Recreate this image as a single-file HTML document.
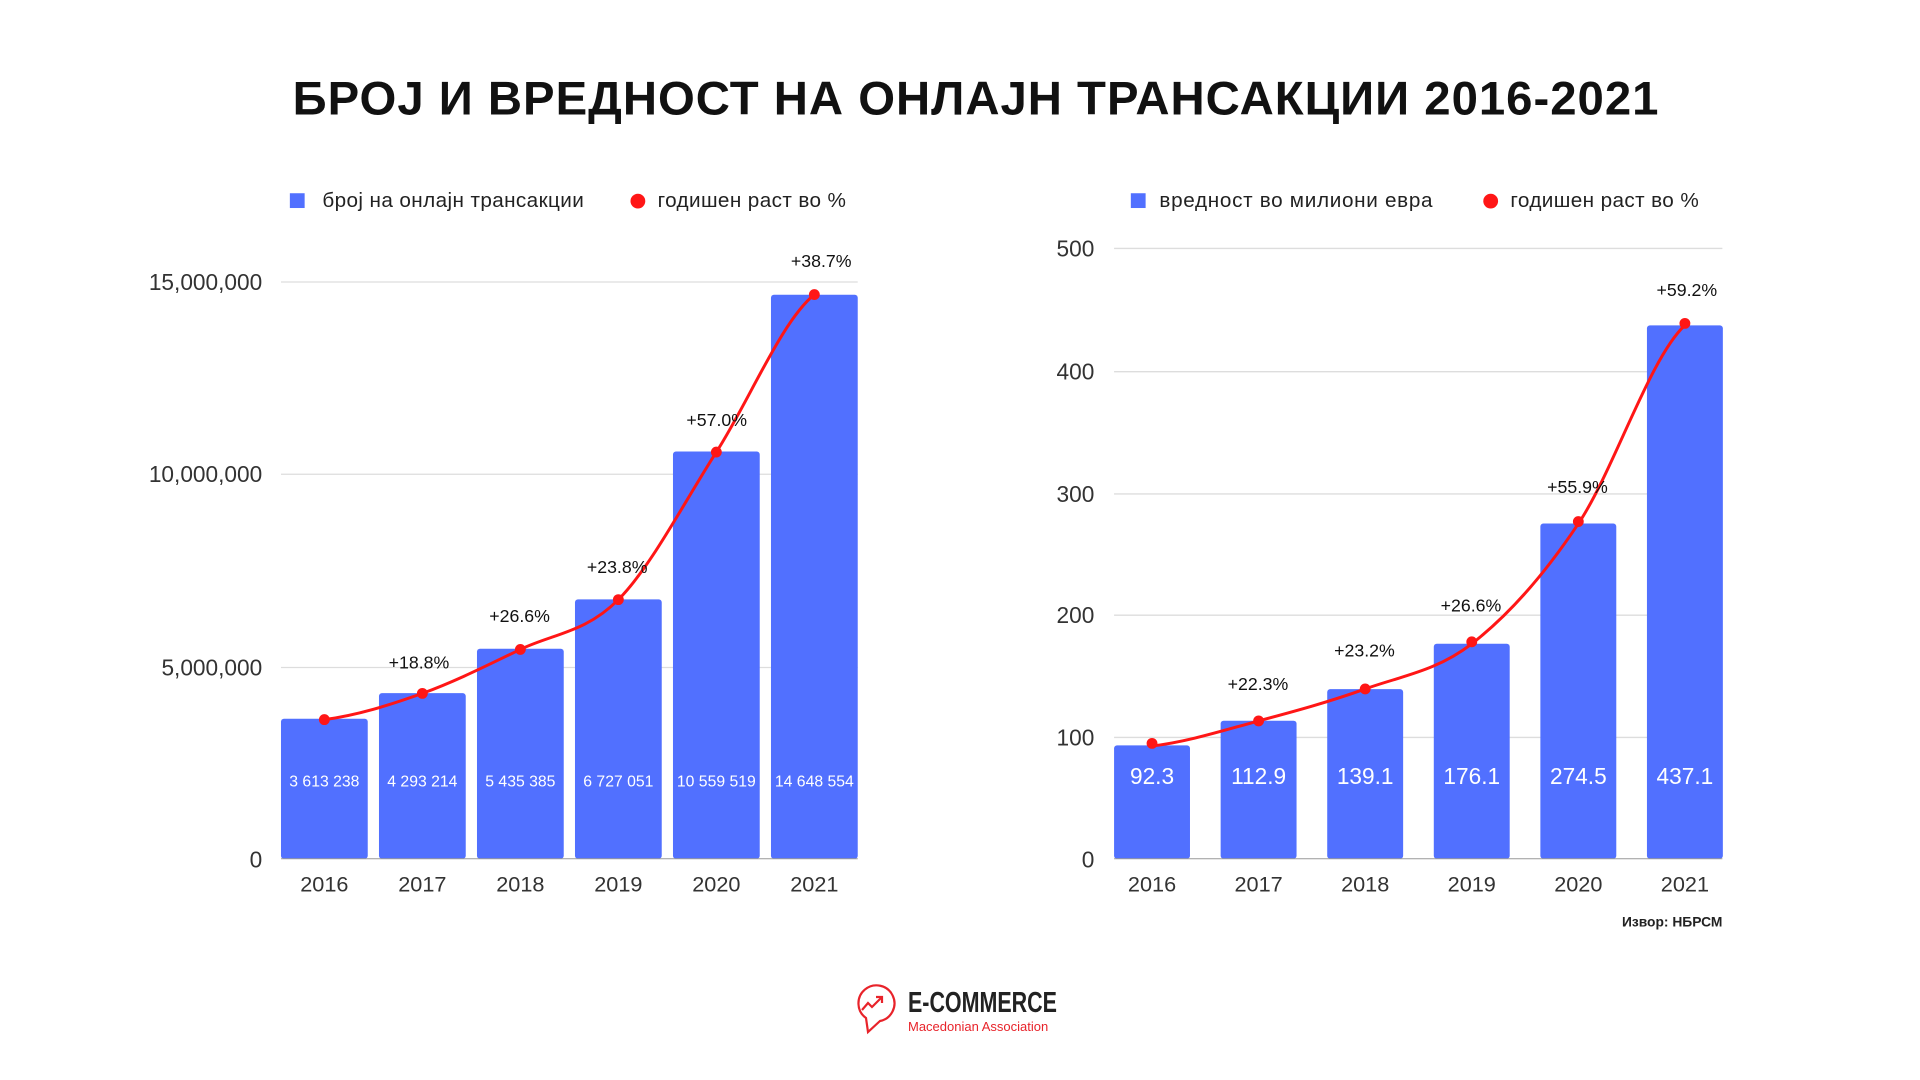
<!DOCTYPE html>
<html><head><meta charset="utf-8"><style>
html,body{margin:0;padding:0;background:#fff;}
svg{display:block;font-family:"Liberation Sans",sans-serif;}
</style></head><body>
<svg width="1920" height="1080" viewBox="0 0 1920 1080" xmlns="http://www.w3.org/2000/svg">
<rect width="1920" height="1080" fill="#fff"/>
<g transform="scale(0.9859)">
<text x="990" y="116" text-anchor="middle" font-size="48" font-weight="bold" fill="#111" letter-spacing="1">БРОЈ И ВРЕДНОСТ НА ОНЛАЈН ТРАНСАКЦИИ 2016-2021</text>

<!-- LEFT CHART -->
<rect x="294" y="196" width="15" height="15" fill="#5170ff"/>
<text x="327" y="210" font-size="21" fill="#222" letter-spacing="0.4">број на онлајн трансакции</text>
<circle cx="647" cy="204" r="7.5" fill="#ff1616"/>
<text x="667" y="210" font-size="21" fill="#222" letter-spacing="0.4">годишен раст во %</text>
<g stroke="#ddd" stroke-width="1.3">
<line x1="285" y1="286" x2="870" y2="286"/>
<line x1="285" y1="481" x2="870" y2="481"/>
<line x1="285" y1="677" x2="870" y2="677"/>
</g>
<g font-size="23" fill="#333" text-anchor="end">
<text x="266" y="294">15,000,000</text>
<text x="266" y="489">10,000,000</text>
<text x="266" y="685">5,000,000</text>
<text x="266" y="880">0</text>
</g>
<g fill="#5170ff">
<rect x="285" y="729" width="88" height="142" rx="3"/>
<rect x="384.4" y="703" width="88" height="168" rx="3"/>
<rect x="483.8" y="658" width="88" height="213" rx="3"/>
<rect x="583.2" y="608" width="88" height="263" rx="3"/>
<rect x="682.6" y="458" width="88" height="413" rx="3"/>
<rect x="782" y="299" width="88" height="572" rx="3"/>
</g>
<line x1="285" y1="871" x2="870" y2="871" stroke="#999" stroke-width="1"/>
<g font-size="16" fill="#fff" text-anchor="middle">
<text x="329" y="798">3 613 238</text>
<text x="428.4" y="798">4 293 214</text>
<text x="527.8" y="798">5 435 385</text>
<text x="627.2" y="798">6 727 051</text>
<text x="726.6" y="798">10 559 519</text>
<text x="826" y="798">14 648 554</text>
</g>
<g font-size="22" fill="#333" text-anchor="middle">
<text x="329" y="904">2016</text>
<text x="428.4" y="904">2017</text>
<text x="527.8" y="904">2018</text>
<text x="627.2" y="904">2019</text>
<text x="726.6" y="904">2020</text>
<text x="826" y="904">2021</text>
</g>
<path d="M329,729.9 C362.1,725.5 395.3,715.2 428.4,703.3 C461.5,691.4 494.7,674.6 527.8,658.7 C560.9,642.8 594.1,641.6 627.2,608.2 C660.3,574.8 693.5,510.1 726.6,458.5 C759.7,406.9 792.9,325.4 826,298.8" fill="none" stroke="#ff1616" stroke-width="3"/>
<g fill="#ff1616">
<circle cx="329" cy="729.9" r="5.5"/><circle cx="428.4" cy="703.3" r="5.5"/><circle cx="527.8" cy="658.7" r="5.5"/>
<circle cx="627.2" cy="608.2" r="5.5"/><circle cx="726.6" cy="458.5" r="5.5"/><circle cx="826" cy="298.8" r="5.5"/>
</g>
<g font-size="18" fill="#111" text-anchor="middle">
<text x="425" y="678">+18.8%</text>
<text x="527" y="631">+26.6%</text>
<text x="626" y="581">+23.8%</text>
<text x="727" y="432">+57.0%</text>
<text x="833" y="271">+38.7%</text>
</g>

<!-- RIGHT CHART -->
<rect x="1147" y="196" width="15" height="15" fill="#5170ff"/>
<text x="1176" y="210" font-size="21" fill="#222" letter-spacing="0.7">вредност во милиони евра</text>
<circle cx="1512" cy="204" r="7.5" fill="#ff1616"/>
<text x="1532" y="210" font-size="21" fill="#222" letter-spacing="0.4">годишен раст во %</text>
<g stroke="#ddd" stroke-width="1.3">
<line x1="1130" y1="252" x2="1747" y2="252"/>
<line x1="1130" y1="377" x2="1747" y2="377"/>
<line x1="1130" y1="501" x2="1747" y2="501"/>
<line x1="1130" y1="624" x2="1747" y2="624"/>
<line x1="1130" y1="748" x2="1747" y2="748"/>
</g>
<g font-size="23" fill="#333" text-anchor="end">
<text x="1110" y="260">500</text>
<text x="1110" y="385">400</text>
<text x="1110" y="509">300</text>
<text x="1110" y="632">200</text>
<text x="1110" y="756">100</text>
<text x="1110" y="880">0</text>
</g>
<g fill="#5170ff">
<rect x="1130" y="756" width="77" height="115" rx="3"/>
<rect x="1238.1" y="731" width="77" height="140" rx="3"/>
<rect x="1346.2" y="699" width="77" height="172" rx="3"/>
<rect x="1454.3" y="653" width="77" height="218" rx="3"/>
<rect x="1562.4" y="531" width="77" height="340" rx="3"/>
<rect x="1670.5" y="330" width="77" height="541" rx="3"/>
</g>
<line x1="1130" y1="871" x2="1747" y2="871" stroke="#999" stroke-width="1"/>
<g font-size="23" fill="#fff" text-anchor="middle">
<text x="1168.5" y="795">92.3</text>
<text x="1276.6" y="795">112.9</text>
<text x="1384.7" y="795">139.1</text>
<text x="1492.8" y="795">176.1</text>
<text x="1600.9" y="795">274.5</text>
<text x="1709" y="795">437.1</text>
</g>
<g font-size="22" fill="#333" text-anchor="middle">
<text x="1168.5" y="904">2016</text>
<text x="1276.6" y="904">2017</text>
<text x="1384.7" y="904">2018</text>
<text x="1492.8" y="904">2019</text>
<text x="1600.9" y="904">2020</text>
<text x="1709" y="904">2021</text>
</g>
<path d="M1168.5,756.7 C1204.5,752.5 1240.6,740.9 1276.6,731.2 C1312.6,721.6 1348.7,711.8 1384.7,698.8 C1420.7,685.8 1456.8,680.9 1492.8,653 C1528.8,625.1 1564.9,585.1 1600.9,531.2 C1636.9,477.3 1673,363.4 1709,329.9" fill="none" stroke="#ff1616" stroke-width="3"/>
<g fill="#ff1616">
<circle cx="1168.5" cy="754" r="5.5"/><circle cx="1276.6" cy="731.2" r="5.5"/><circle cx="1384.7" cy="698.8" r="5.5"/>
<circle cx="1492.8" cy="651" r="5.5"/><circle cx="1600.9" cy="529" r="5.5"/><circle cx="1709" cy="328" r="5.5"/>
</g>
<g font-size="18" fill="#111" text-anchor="middle">
<text x="1276" y="700">+22.3%</text>
<text x="1384" y="666">+23.2%</text>
<text x="1492" y="620">+26.6%</text>
<text x="1600" y="500">+55.9%</text>
<text x="1711" y="300">+59.2%</text>
</g>
<text x="1747" y="940" font-size="14" font-weight="bold" fill="#222" text-anchor="end">Извор: НБРСМ</text>
</g>

<!-- LOGO -->
<g fill="none" stroke="#e8232a" stroke-width="2.2">
<path d="M866,1018 A18,18 0 1 1 880,1021 L868,1032 Z"/>
<polyline points="862,1010 868,1003 872,1007 882,997"/>
<polyline points="876,997 882,997 882,1003"/>
</g>
<text x="908" y="1012" font-size="29" font-weight="bold" fill="#222" transform="translate(908,0) scale(0.74,1) translate(-908,0)">E-COMMERCE</text>
<text x="908" y="1031" font-size="13" fill="#e8232a">Macedonian Association</text>
</svg>
</body></html>
